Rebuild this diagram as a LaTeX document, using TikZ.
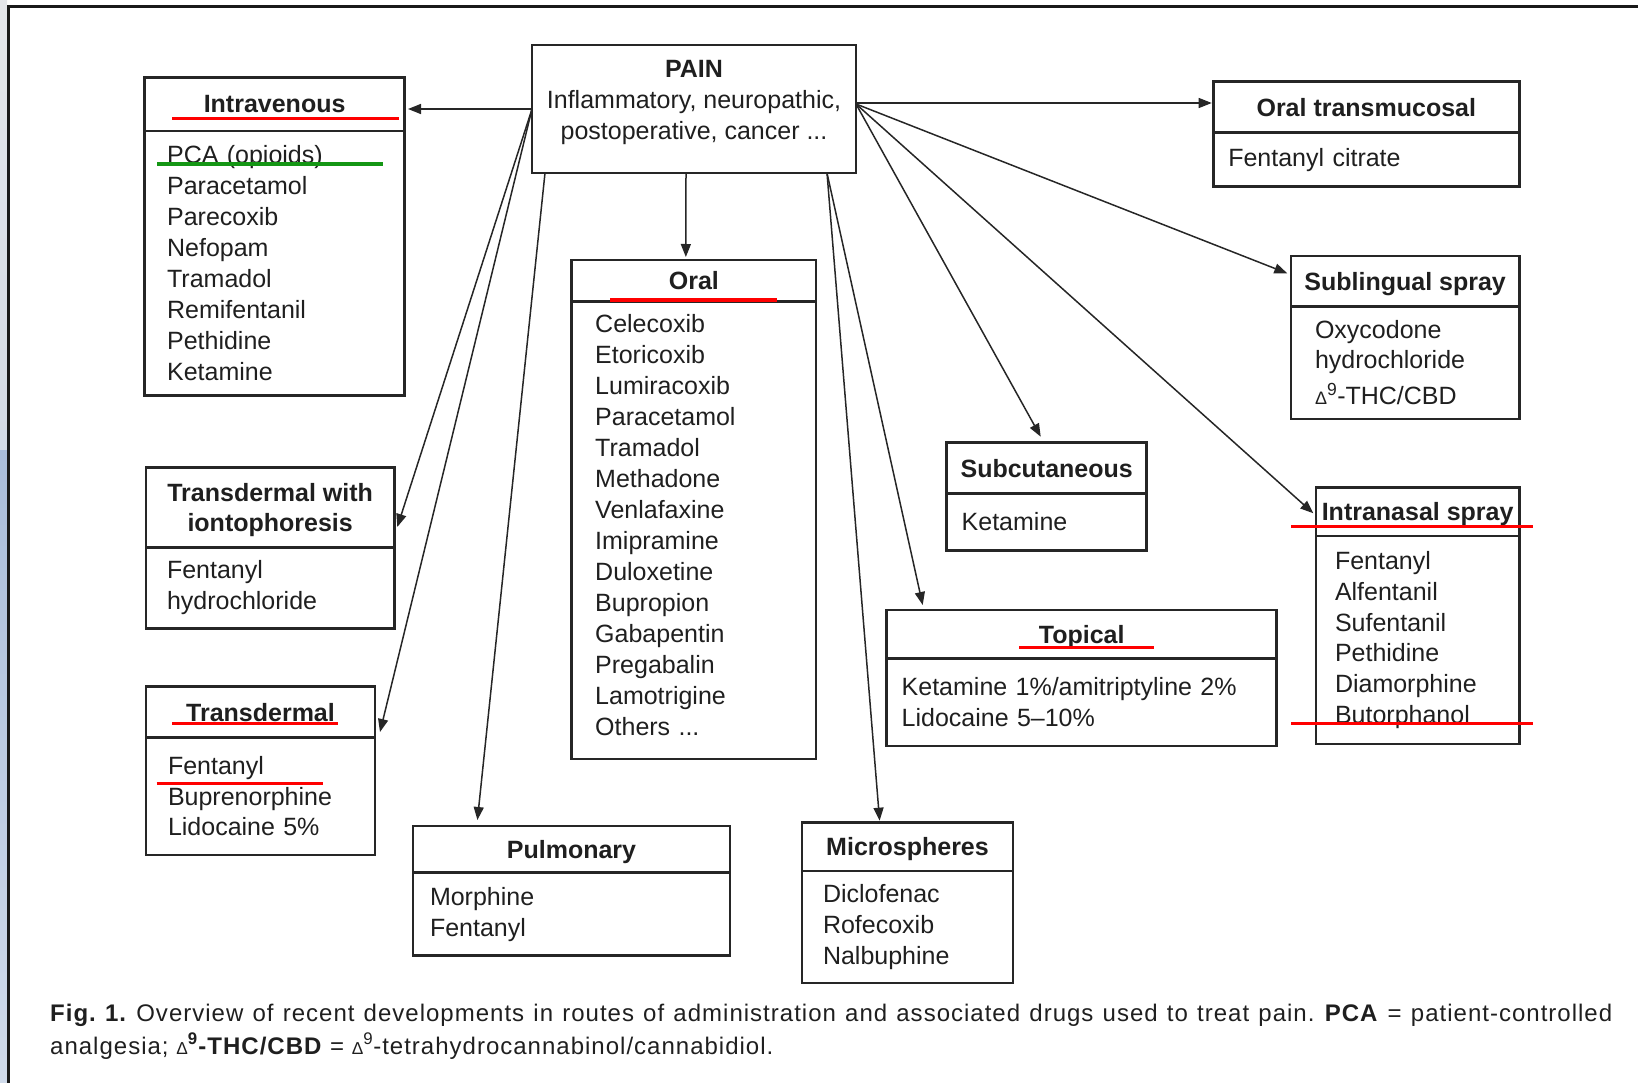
\documentclass[tikz,border=0pt]{standalone}
\usepackage{fontspec}
\setmainfont{Liberation Sans}
\newfontfamily\capfont[LetterSpace=4.2]{Liberation Sans}
\usetikzlibrary{positioning, arrows.meta}
\definecolor{markgreen}{RGB}{20,150,20}
\definecolor{stripblue}{RGB}{170,189,218}
\definecolor{stripgray}{RGB}{228,230,234}
\frenchspacing

\begin{document}
\begin{tikzpicture}[
        x=1pt, y=-1pt,
        boxline/.style={rectangle, draw=black!85, line width=2.6pt, outer sep=0pt, text=black!88},
        routehead/.style={boxline, inner sep=2pt, align=center, text depth=0pt,
            font={\fontsize{25}{30}\selectfont\bfseries}},
        routelist/.style={boxline, inner ysep=0pt, align=left,
            font={\fontsize{25}{31}\selectfont}},
        painbox/.style={boxline, align=center, text depth=18pt,
            font={\fontsize{25}{31}\selectfont}},
        arrow/.style={-{Triangle[length=13pt,width=10pt]}, line width=1.5pt, draw=black!85},
        redmark/.style={line width=3.3pt, draw=red},
        greenmark/.style={line width=3.3pt, draw=markgreen}
    ]
    \useasboundingbox (0,0) rectangle (1638,1083);

    % --- Frame ---
    \shade[top color=stripgray, bottom color=stripgray!70!stripblue] (0,0) rectangle (7,450);
    \shade[top color=stripblue, bottom color=stripblue!55!white] (0,450) rectangle (7,1083);
    \draw[line width=3pt, black!90] (8,1083) -- (8,6.5) -- (1638,6.5);

    % --- Nodes ---
    \node[painbox, anchor=north west, minimum width=324pt, minimum height=128pt] (pain) at (532,45) {
        \textbf{PAIN}\\
        Inflammatory, neuropathic,\\
        postoperative, cancer ...
    };

    \node[routehead, anchor=north west, minimum width=260pt, minimum height=53.3pt] (iv) at (144.6,77.7) {Intravenous};
    \node[routelist, below=0pt of iv, minimum width=260pt, text width=215pt, inner xsep=22.5pt, minimum height=264.7pt] (ivlist) {
        PCA (opioids)\\ Paracetamol\\ Parecoxib\\ Nefopam\\ Tramadol\\ Remifentanil\\ Pethidine\\ Ketamine
    };

    \node[routehead, anchor=north west, minimum width=248.3pt, minimum height=79.6pt] (ionto) at (146,467.7) {Transdermal with\\iontophoresis};
    \node[routelist, below=0pt of ionto, minimum width=248.3pt, text width=206.3pt, inner xsep=21pt, minimum height=81.4pt] (iontolist) {
        Fentanyl\\ hydrochloride
    };

    \node[routehead, anchor=north west, minimum width=229pt, minimum height=50.6pt] (td) at (146,686.7) {Transdermal};
    \node[routelist, below=0pt of td, minimum width=229pt, text width=185pt, inner xsep=22pt, minimum height=117.7pt, font={\fontsize{25}{30.5}\selectfont}] (tdlist) {
        Fentanyl\\ Buprenorphine\\ Lidocaine 5\%
    };

    \node[routehead, anchor=north west, minimum width=317pt, minimum height=46.7pt] (pulm) at (413,826) {Pulmonary};
    \node[routelist, below=0pt of pulm, minimum width=317pt, text width=283pt, inner xsep=17pt, minimum height=83pt] (pulmlist) {
        Morphine\\ Fentanyl
    };

    \node[routehead, anchor=north west, minimum width=244.3pt, minimum height=41.7pt] (oral) at (571.7,260) {Oral};
    \node[routelist, below=0pt of oral, minimum width=244.3pt, text width=197.3pt, inner xsep=23.5pt, minimum height=457.3pt, text depth=413pt] (orallist) {
        Celecoxib\\ Etoricoxib\\ Lumiracoxib\\ Paracetamol\\ Tramadol\\ Methadone\\ Venlafaxine\\
        Imipramine\\ Duloxetine\\ Bupropion\\ Gabapentin\\ Pregabalin\\ Lamotrigine\\ Others ...
    };

    \node[routehead, anchor=north west, minimum width=211pt, minimum height=48.3pt] (micro) at (802,822.7) {Microspheres};
    \node[routelist, below=0pt of micro, minimum width=211pt, text width=169pt, inner xsep=21pt, minimum height=112pt] (microlist) {
        Diclofenac\\ Rofecoxib\\ Nalbuphine
    };

    \node[routehead, anchor=north west, minimum width=200pt, minimum height=50.6pt] (subcut) at (946.7,442.7) {Subcutaneous};
    \node[routelist, below=0pt of subcut, minimum width=200pt, text width=170pt, inner xsep=15pt, minimum height=57.4pt] (subcutlist) {
        Ketamine
    };

    \node[routehead, anchor=north west, minimum width=390pt, minimum height=48.3pt] (topic) at (886.7,610) {Topical};
    \node[routelist, below=0pt of topic, minimum width=390pt, text width=360pt, inner xsep=15pt, minimum height=87.7pt] (topiclist) {
        Ketamine 1\%/amitriptyline 2\%\\ Lidocaine 5--10\%
    };

    \node[routehead, anchor=north west, minimum width=306pt, minimum height=51pt] (otm) at (1213.3,81.7) {Oral transmucosal};
    \node[routelist, below=0pt of otm, minimum width=306pt, text width=276pt, inner xsep=15pt, minimum height=54pt] (otmlist) {
        Fentanyl citrate
    };

    \node[routehead, anchor=north west, minimum width=228.3pt, minimum height=50.7pt] (slspray) at (1291,256) {Sublingual spray};
    \node[routelist, below=0pt of slspray, minimum width=228.3pt, text width=180.3pt, inner xsep=24pt, minimum height=112.3pt, font={\fontsize{25}{30}\selectfont}] (slspraylist) {
        Oxycodone\\ hydrochloride\\[6pt] \scalebox{0.72}{Δ}\textsuperscript{9}-THC/CBD
    };

    \node[routehead, anchor=north west, minimum width=203.3pt, minimum height=48.7pt] (nasal) at (1316,487.3) {Intranasal spray};
    \node[routelist, below=0pt of nasal, minimum width=203.3pt, text width=165.3pt, inner xsep=19pt, minimum height=208pt, font={\fontsize{25}{30.7}\selectfont}] (nasallist) {
        Fentanyl\\ Alfentanil\\ Sufentanil\\ Pethidine\\ Diamorphine\\ Butorphanol
    };

    \node[anchor=base west, inner sep=0pt, text width=1562pt, align=justify, text=black!88,
        font={\capfont\fontsize{24}{33}\selectfont}] (caption) at (50,1021) {%
        \textbf{Fig. 1.} Overview of recent developments in routes of administration and associated drugs used to treat pain. \textbf{PCA} = patient-controlled\linebreak
        analgesia; \scalebox{0.72}{Δ}\textsuperscript{\textbf{9}}\textbf{-THC/CBD} = \scalebox{0.72}{Δ}\textsuperscript{9}-tetrahydrocannabinol/cannabidiol.};

    % --- Arrows ---
    \draw[arrow, shorten >=3.4pt] (pain.west) -- (pain.west -| iv.east);
    \draw[arrow] (pain.west) -- ([xshift=3pt, yshift=-19.5pt]ionto.east);
    \draw[arrow] (pain.west) -- ([xshift=5pt, yshift=-20pt]td.east);
    \draw[arrow] ([xshift=13pt]pain.south west) -- ([xshift=64.4pt, yshift=6pt]pulm.north west);
    \draw[arrow] ([xshift=-8pt]pain.south) -- ([xshift=-8pt, yshift=3pt]oral.north);
    \draw[arrow] ([xshift=-29pt]pain.south east) -- ([xshift=77.6pt, yshift=2pt]micro.north west);
    \draw[arrow] ([xshift=-29pt]pain.south east) -- ([xshift=36pt, yshift=5pt]topic.north west);
    \draw[arrow] ([yshift=5pt]pain.east) -- ([xshift=-6pt, yshift=6pt]subcut.north);
    \draw[arrow, shorten >=1.6pt] ([yshift=6pt]pain.east) -- ([yshift=6pt]pain.east -| otm.west);
    \draw[arrow] ([yshift=5pt]pain.east) -- ([xshift=-3.7pt, yshift=8pt]slspray.west);
    \draw[arrow] ([yshift=5pt]pain.east) -- ([xshift=-2.7pt, yshift=-1.6pt]nasal.west);

    % --- Highlights ---
    \draw[redmark] (172,118.7) -- (399,118.7);
    \draw[greenmark] (157,164) -- (383,164);
    \draw[redmark] (610,300) -- (776.7,300);
    \draw[redmark] (172,723.3) -- (337.7,723.3);
    \draw[redmark] (156.7,783.3) -- (322.7,783.3);
    \draw[redmark] (1019,647.7) -- (1154.3,647.7);
    \draw[redmark] (1291,526.7) -- (1532.7,526.7);
    \draw[redmark] (1291,723.3) -- (1532.7,723.3);

\end{tikzpicture}
\end{document}
